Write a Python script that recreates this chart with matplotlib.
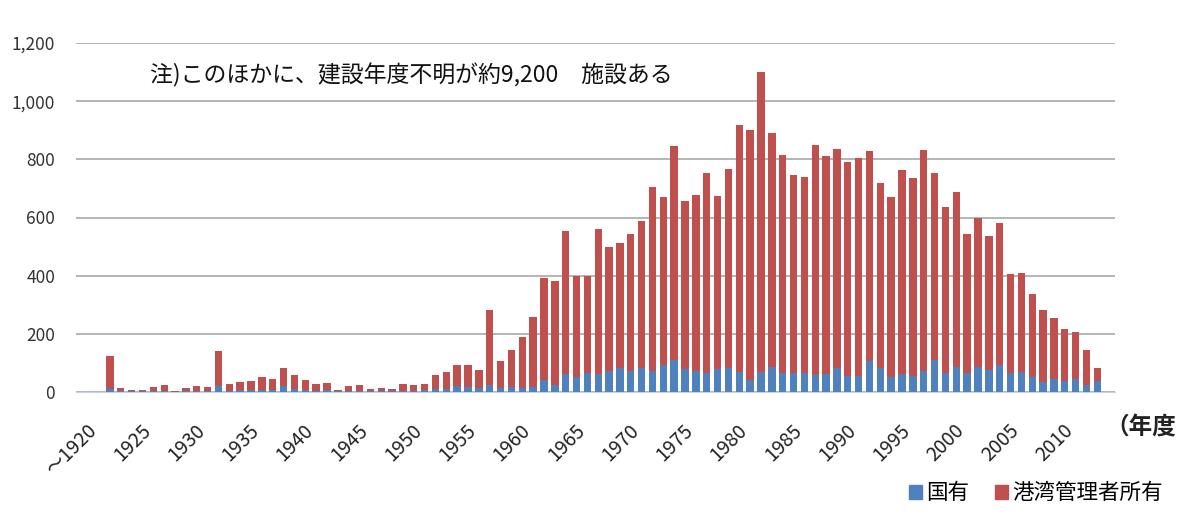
import numpy as np
import matplotlib
matplotlib.use("Agg")
import matplotlib.pyplot as plt
from matplotlib.patches import Patch
from matplotlib.transforms import ScaledTranslation

plt.rcParams['font.family'] = ['Noto Sans CJK JP', 'DejaVu Sans']

# 1920 (~1920) .. 2011
years = list(range(1920, 2012))

totals = [123, 14, 6, 8, 16, 25, 4, 15, 21, 16,
          141, 26, 33, 37, 52, 45, 84, 58, 40, 26,
          31, 8, 19, 24, 10, 15, 11, 29, 25, 27,
          60, 69, 94, 92, 77, 282, 107, 144, 190, 257,
          393, 383, 554, 400, 400, 560, 497, 513, 542, 589,
          706, 669, 845, 657, 679, 754, 675, 766, 917, 900,
          1101, 891, 814, 746, 739, 851, 811, 834, 792, 803,
          828, 717, 669, 762, 735, 832, 752, 635, 689, 544,
          599, 538, 582, 405, 410, 338, 281, 253, 216, 205,
          146, 81]

kokuyu = [12, 3, 2, 2, 4, 5, 1, 3, 4, 4,
          20, 5, 6, 6, 8, 8, 20, 10, 8, 5,
          8, 2, 4, 5, 2, 3, 2, 5, 5, 6,
          10, 12, 20, 18, 15, 24, 15, 18, 15, 18,
          41, 23, 62, 53, 64, 62, 73, 81, 72, 81,
          73, 93, 110, 78, 73, 66, 78, 81, 70, 41,
          70, 87, 64, 66, 66, 58, 62, 81, 55, 55,
          108, 81, 50, 62, 55, 73, 110, 64, 87, 64,
          87, 75, 93, 64, 70, 53, 35, 43, 39, 43,
          24, 39]

kowan = [t - k for t, k in zip(totals, kokuyu)]

tick_years = list(range(1920, 2011, 5))
tick_labels = ['～1920'] + [str(y) for y in tick_years[1:]]

blue = '#4F81BD'
red = '#C0504D'

fig = plt.figure(figsize=(12, 5.16), dpi=100)
ax = fig.add_axes([76 / 1200, 124 / 516, 1039 / 1200, 349 / 516])

x = np.arange(len(years))
ax.bar(x, kokuyu, width=0.68, color=blue, zorder=3)
ax.bar(x, kowan, width=0.68, bottom=kokuyu, color=red, zorder=3)

ax.set_ylim(0, 1200)
ax.set_yticks(range(0, 1201, 200))
ax.set_yticklabels(['{:,}'.format(v) for v in range(0, 1201, 200)])
ax.set_xlim(-3.13, 92.63)
ax.grid(axis='y', color='#A0A0A0', linewidth=1.1, zorder=0)

for s in ['top', 'right', 'left']:
    ax.spines[s].set_visible(False)
ax.spines['bottom'].set_color('#C8D4E4')
ax.tick_params(axis='y', length=0, pad=15, labelsize=12.5, labelcolor='#333333')
ax.tick_params(axis='x', length=0, pad=20, labelsize=14, labelcolor='#222222')

ax.set_xticks([y - 1920 for y in tick_years])
ax.set_xticklabels(tick_labels, rotation=45, ha='right', rotation_mode='anchor')
for lab in ax.get_xticklabels():
    lab.set_transform(lab.get_transform() + ScaledTranslation(-0.24, 0, fig.dpi_scale_trans))

fig.text(1105 / 1200, 1 - 427 / 516, '（年度', fontsize=17, fontweight='bold',
         va='center', ha='left', color='#222222')

fig.text(150 / 1200, 1 - 75 / 516, '注)このほかに、建設年度不明が約9,200\u3000施設ある',
         fontsize=16.5, va='center', ha='left', color='#111111')

handles = [Patch(color=blue, label='国有'), Patch(color=red, label='港湾管理者所有')]
fig.legend(handles=handles, loc='lower right', bbox_to_anchor=(0.985, -0.015), ncol=2,
           frameon=False, fontsize=15.5, handlelength=0.6, handleheight=0.6,
           handletextpad=0.2, columnspacing=1.2)

fig.savefig('out.png', dpi=100)
